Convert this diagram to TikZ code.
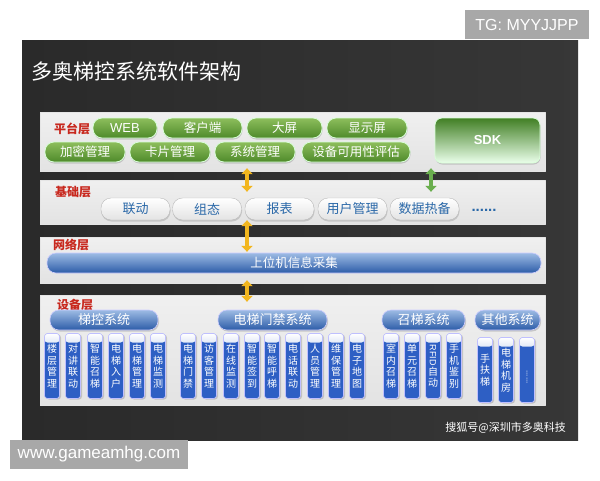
\documentclass[tikz,border=0pt]{standalone}
\usepackage{fontspec}
\setmainfont{Noto Sans CJK SC}
\newfontfamily\latinfont{Liberation Sans}
\usetikzlibrary{arrows.meta,shadows,positioning}
\definecolor{bgdark}{HTML}{2A2A2A}
\definecolor{badgegray}{HTML}{A8A8A8}
\definecolor{layred}{HTML}{C8281E}
\definecolor{gpilltop}{HTML}{8DBE5C}
\definecolor{gpillbot}{HTML}{4E8A2A}
\definecolor{sdkgreen}{HTML}{417F24}
\definecolor{txtblue}{HTML}{2A68A8}
\definecolor{bluetop}{HTML}{9DBBE4}
\definecolor{bluebot}{HTML}{2C5CA8}
\definecolor{colblue}{HTML}{2E5FC4}
\definecolor{arrowy}{HTML}{F2B61E}
\definecolor{arrowg}{HTML}{6AAE4E}
\begin{document}
\begin{tikzpicture}[x=1pt,y=-1pt,line join=round,line cap=round,>=Triangle]
		\tikzset{panel/.style={draw=white!80!gray,top color=white!88!gray,bottom color=white!78!gray,minimum width=505pt,inner sep=0pt},
			layer/.style={text=layred,font=\fontsize{12}{12}\selectfont\bfseries,inner sep=0pt},
			gpill/.style={rounded corners=9pt,draw=white!85!green,line width=0.8pt,top color=gpilltop,bottom color=gpillbot,text=white,font=\fontsize{12.5}{13}\selectfont,minimum height=20pt,inner sep=0pt,drop shadow={opacity=0.35,shadow xshift=0.5pt,shadow yshift=-1.5pt}},
			wpill/.style={rounded corners=10pt,draw=gray!55,top color=white,bottom color=gray!22,text=txtblue,font=\fontsize{13}{13}\selectfont,minimum width=69pt,minimum height=22pt,inner sep=0pt,drop shadow={opacity=0.3,shadow xshift=0.5pt,shadow yshift=-1.5pt}},
			bbar/.style={rounded corners=9pt,draw=white!80!blue,line width=0.6pt,top color=bluetop,bottom color=bluebot,text=white,minimum height=20pt,inner sep=0pt},
			head/.style={bbar,font=\fontsize{13}{13}\selectfont,drop shadow={opacity=0.35,shadow xshift=1pt,shadow yshift=-1.5pt}},
			col/.style={rounded corners=3pt,draw=white!75!blue,line width=0.6pt,fill=colblue,minimum width=15pt,minimum height=65pt,inner sep=0pt,text=white,align=center,font=\fontsize{10}{11.5}\selectfont,execute at begin node={\rule{0pt}{14pt}},drop shadow={opacity=0.35,shadow xshift=1.5pt,shadow yshift=-1pt},
				path picture={\shade[top color=white,bottom color=colblue] (path picture bounding box.north west) rectangle ([yshift=-9pt]path picture bounding box.north east);}},
			yarrow/.style={{Triangle[length=6pt,width=11pt]}-{Triangle[length=6pt,width=11pt]},line width=4.5pt,draw=arrowy},
			garrow/.style={yarrow,draw=arrowg}}
		\useasboundingbox[fill=white] (0,0) rectangle (600,480);
		% dark board
		\shade[left color=bgdark,right color=bgdark!85!gray] (22,40) rectangle (578,440);
		\node[fill=badgegray,text=white,font=\latinfont\fontsize{16}{16}\selectfont,minimum width=124pt,minimum height=29pt,inner sep=0pt] (tg) at (527,24.5) {TG: MYYJJPP};
		\node[fill=badgegray,text=white,font=\latinfont\fontsize{17}{17}\selectfont,minimum width=178pt,minimum height=29pt,inner sep=0pt] (www) at (99,454.5) {www.gameamhg.com};
		\node[anchor=west,text=white,font=\fontsize{21}{21}\selectfont,inner sep=0pt] (title) at (31,71) {多奥梯控系统软件架构};
		\node[anchor=east,text=white,font=\fontsize{11}{11}\selectfont,inner sep=0pt] (src) at (566,428) {搜狐号@深圳市多奥科技};
		% layers
		\node[panel,minimum height=59pt] (plat) at (292.5,141.5) {};
		\node[panel,minimum height=44pt] (base) at (292.5,202) {};
		\node[panel,minimum height=46pt] (net) at (292.5,260) {};
		\node[panel,minimum height=110pt] (dev) at (292.5,350) {};
		\node[layer] (platlab) at (72,129) {平台层};
		\node[layer] (baselab) at (73,192) {基础层};
		\node[layer] (netlab) at (71,245) {网络层};
		\node[layer] (devlab) at (75,305) {设备层};
		% platform
		\node[gpill,minimum width=64pt,font=\latinfont\fontsize{13}{13}\selectfont] (web) at (125,128) {WEB};
		\node[gpill,minimum width=79pt] (client) at (202.5,128) {客户端};
		\node[gpill,minimum width=75pt] (screen) at (284.5,128) {大屏};
		\node[gpill,minimum width=80pt] (disp) at (367,128) {显示屏};
		\node[gpill,minimum width=80pt] (crypt) at (85,152) {加密管理};
		\node[gpill,minimum width=80pt] (card) at (170,152) {卡片管理};
		\node[gpill,minimum width=80pt] (sysm) at (255,152) {系统管理};
		\node[gpill,minimum width=108pt] (avail) at (356,152) {设备可用性评估};
		\node[rounded corners=7pt,draw=white!85!green,line width=0.8pt,top color=sdkgreen,middle color=sdkgreen!80!white,bottom color=white!92!green,minimum width=105pt,minimum height=45pt,text=white,font=\latinfont\fontsize{13}{13}\selectfont\bfseries,drop shadow={opacity=0.35,shadow xshift=0.5pt,shadow yshift=-1.5pt}] (sdk) at (487.5,140.5) {SDK};
		% base
		\node[wpill] (link) at (135.5,209) {联动};
		\node[wpill] (config) at (207,209) {组态};
		\node[wpill] (report) at (279.5,209) {报表};
		\node[wpill] (user) at (352.5,209) {用户管理};
		\node[wpill] (backup) at (424.5,209) {数据热备};
		\node[text=txtblue,font=\latinfont\bfseries\fontsize{15}{15}\selectfont,inner sep=0pt] (more) at (484,210) {......};
		% network
		\node[bbar,minimum width=494pt,font=\fontsize{12.5}{13}\selectfont] (collect) at (294,263) {上位机信息采集};
		% devices
		\node[head,minimum width=108pt] (tk) at (104,320) {梯控系统};
		\node[head,minimum width=109pt] (mj) at (272.5,320) {电梯门禁系统};
		\node[head,minimum width=83pt] (zt) at (423.5,320) {召梯系统};
		\node[head,minimum width=65pt] (qt) at (507.5,320) {其他系统};
		\node[col] (tk1) at (52,366) {楼\\层\\管\\理};
		\node[col] (tk2) at (73,366) {对\\讲\\联\\动};
		\node[col] (tk3) at (95,366) {智\\能\\召\\梯};
		\node[col] (tk4) at (116,366) {电\\梯\\入\\户};
		\node[col] (tk5) at (137,366) {电\\梯\\管\\理};
		\node[col] (tk6) at (158,366) {电\\梯\\监\\测};
		\node[col] (mj1) at (188,366) {电\\梯\\门\\禁};
		\node[col] (mj2) at (209,366) {访\\客\\管\\理};
		\node[col] (mj3) at (231,366) {在\\线\\监\\测};
		\node[col] (mj4) at (252,366) {智\\能\\签\\到};
		\node[col] (mj5) at (272,366) {智\\能\\呼\\梯};
		\node[col] (mj6) at (293,366) {电\\话\\联\\动};
		\node[col] (mj7) at (315,366) {人\\员\\管\\理};
		\node[col] (mj8) at (336,366) {维\\保\\管\\理};
		\node[col] (mj9) at (357,366) {电\\子\\地\\图};
		\node[col] (zt1) at (391,366) {室\\内\\召\\梯};
		\node[col] (zt2) at (412,366) {单\\元\\召\\梯};
		\node[col] (zt3) at (433,366) {\rotatebox{-90}{\latinfont\fontsize{9}{9}\selectfont RFID}\\自\\动};
		\node[col] (zt4) at (454,366) {手\\机\\鉴\\别};
		\node[col] (qt1) at (485,370) {手\\扶\\梯};
		\node[col] (qt2) at (506,370) {电\\梯\\机\\房};
		\node[col] (qt3) at (527,370) {\rotatebox{-90}{\latinfont\fontsize{8}{8}\selectfont ......}};
		% links between layers
		\coordinate (ya) at (247,0);
		\coordinate (ga) at (431,0);
		\draw[yarrow] ([yshift=3pt]plat.south -| ya) -- ([yshift=-12pt]base.north -| ya);
		\draw[garrow] ([yshift=3pt]plat.south -| ga) -- ([yshift=-12pt]base.north -| ga);
		\draw[yarrow] ([yshift=4pt]base.south -| ya) -- ([yshift=-15pt]net.north -| ya);
		\draw[yarrow] ([yshift=3pt]net.south -| ya) -- ([yshift=-7pt]dev.north -| ya);
	\end{tikzpicture}
\end{document}
